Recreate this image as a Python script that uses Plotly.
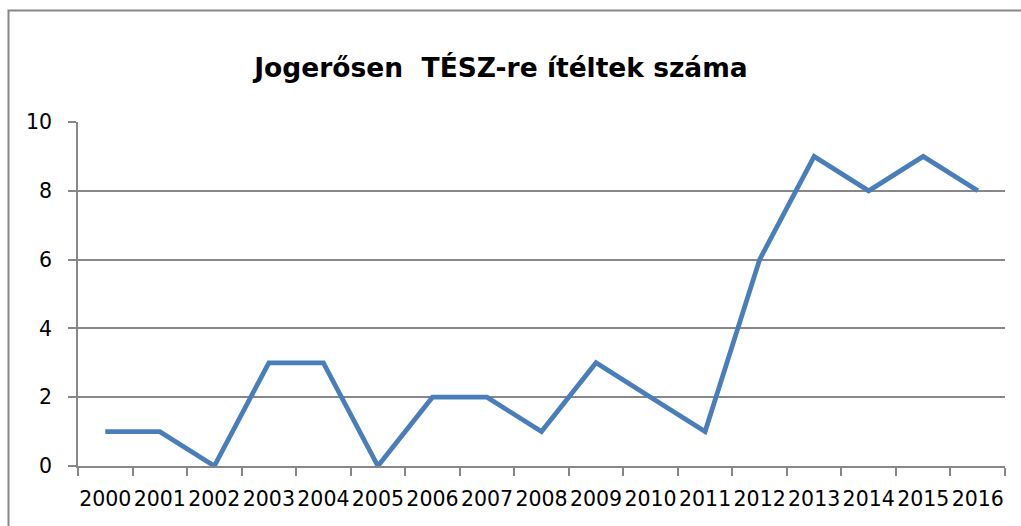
import plotly.graph_objects as go

years = [str(y) for y in range(2000, 2017)]
values = [1, 1, 0, 3, 3, 0, 2, 2, 1, 3, 2, 1, 6, 9, 8, 9, 8]
title_text = "Jogerősen\u00a0 TÉSZ-re ítéltek száma"

W, H = 1021, 526
ml, mr, mt, mb = 78, 16, 122, 60
pw, ph = W - ml - mr, H - mt - mb

def px_x(x):
    return (x - ml) / pw

def px_y(y):
    return (H - mb - y) / ph

fig = go.Figure()
fig.add_trace(go.Scatter(
    x=years, y=values, mode="lines",
    line=dict(color="#4A7EBB", width=4.8),
    showlegend=False, hoverinfo="skip",
))

grey = "#878787"
fig.update_layout(
    width=W, height=H,
    margin=dict(l=ml, r=mr, t=mt, b=mb, autoexpand=False),
    paper_bgcolor="white", plot_bgcolor="white",
    title=dict(text=title_text, x=501 / W, xanchor="center",
               y=1 - 68 / H, yanchor="middle", xref="container", yref="container",
               font=dict(family="DejaVu Sans", size=26.5, color="black", weight="bold")),
    xaxis=dict(type="category", range=[-0.5, 16.5], showgrid=False,
               showline=True, linecolor=grey, linewidth=1.5,
               ticks="outside", tickson="boundaries", ticklen=8, tickcolor=grey, tickwidth=1.5,
               tickangle=0, automargin=False,
               tickfont=dict(family="DejaVu Sans", size=20.5, color="black"),
               ticklabelstandoff=14, fixedrange=True),
    yaxis=dict(range=[0, 10], dtick=2, showgrid=True, gridcolor=grey, gridwidth=1.5,
               showline=True, linecolor=grey, linewidth=1.5,
               ticks="outside", ticklen=8, tickcolor=grey, tickwidth=1.5,
               automargin=False,
               tickfont=dict(family="DejaVu Sans", size=20.5, color="black"),
               ticklabelstandoff=12, zeroline=False, fixedrange=True),
    shapes=[dict(type="rect", xref="paper", yref="paper",
                 x0=px_x(8.5), x1=px_x(1040), y0=px_y(545), y1=px_y(10.5),
                 line=dict(color=grey, width=2), fillcolor="rgba(0,0,0,0)", layer="below")],
)

fig.write_html("out.html", config={"displayModeBar": False},
               post_script="document.body.style.margin='0';")
